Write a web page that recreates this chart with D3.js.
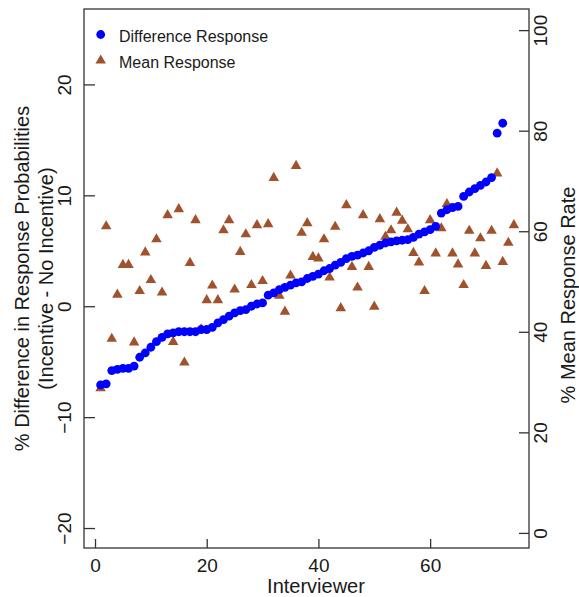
<!DOCTYPE html>
<meta charset="utf-8">
<style>
body { margin: 0; background: #fff; }
text { font-family: "Liberation Sans", Arial, sans-serif; fill: #1a1a1a; }
.frame { fill: none; stroke: #333; stroke-width: 1.3px; }
.tick line { stroke: #333; stroke-width: 1.3px; }
</style>
<body>
<script src="https://d3js.org/d3.v7.min.js"></script>
<script>
// difference in response probability, sorted (incentive - no incentive)
var diffResponse = [-7.1, -7.0, -5.8, -5.7, -5.6, -5.6, -5.4, -4.6, -4.2, -3.7,
    -3.2, -2.8, -2.5, -2.4, -2.3, -2.3, -2.3, -2.3, -2.1, -2.1,
    -1.9, -1.5, -1.2, -0.9, -0.6, -0.4, -0.3, 0.0, 0.2, 0.3,
    1.0, 1.2, 1.5, 1.7, 1.9, 2.1, 2.2, 2.5, 2.7, 2.9,
    3.2, 3.4, 3.7, 3.95, 4.3, 4.5, 4.6, 4.8, 5.0, 5.3,
    5.5, 5.7, 5.8, 5.9, 5.95, 6.0, 6.2, 6.5, 6.7, 6.9,
    7.2, 8.4, 8.7, 8.9, 9.0, 9.9, 10.3, 10.6, 10.9, 11.2,
    11.6, 15.6, 16.5];
// mean response rate (%) per interviewer
var meanResponse = [28.8, 61.0, 38.6, 47.4, 53.3, 53.3, 37.9, 48.1, 55.8, 50.3,
    58.4, 47.8, 63.2, 38.0, 64.4, 33.9, 53.7, 62.2, 40.5, 46.3,
    49.2, 46.3, 60.2, 62.2, 48.4, 55.9, 59.4, 49.3, 61.2, 50.1,
    61.4, 70.6, 47.2, 44.0, 51.2, 73.0, 59.7, 61.6, 54.9, 54.6,
    58.4, 50.8, 60.9, 44.7, 65.2, 52.9, 48.8, 63.2, 52.9, 45.0,
    62.4, 58.9, 60.2, 63.7, 62.1, 60.4, 55.7, 53.8, 48.1, 62.2,
    55.6, 60.6, 65.4, 55.6, 53.4, 49.3, 60.1, 55.6, 58.6, 53.1,
    60.1, 71.5, 53.9, 57.7, 61.2];
var xTicks = [0, 20, 40, 60];
var leftTicks = [-20, -10, 0, 10, 20];
var rightTicks = [0, 20, 40, 60, 80, 100];
var legendLabels = ["Difference Response", "Mean Response"];

// plot box
var margin = {top: 9, right: 50, bottom: 49, left: 84},
    width = 579 - margin.left - margin.right,
    height = 597 - margin.top - margin.bottom;

var svg = d3.select("body").append("svg")
    .attr("width", 579)
    .attr("height", 597);
var g = svg.append("g")
    .attr("transform", "translate(" + margin.left + "," + margin.top + ")");

// scales
var x = d3.scaleLinear().domain([-1.97, 77.7]).range([0, width]);
var yLeft = d3.scaleLinear().domain([-21.8, 26.8]).range([height, 0]);
var yRight = d3.scaleLinear().domain([-3, 104.2]).range([height, 0]);

// axes, ticks point inward like the original
var xAxis = g.append("g")
    .attr("transform", "translate(0," + height + ")")
    .call(d3.axisBottom(x).tickValues(xTicks).tickSize(-9).tickPadding(14));
var lAxis = g.append("g")
    .call(d3.axisLeft(yLeft).tickValues(leftTicks).tickSize(-11).tickFormat(d3.format("d")));
var rAxis = g.append("g")
    .attr("transform", "translate(" + width + ",0)")
    .call(d3.axisRight(yRight).tickValues(rightTicks).tickSize(-10));
[xAxis, lAxis, rAxis].forEach(function(a) {
    a.select(".domain").remove();
    a.selectAll("text").style("font-size", "19px").attr("fill", "#1a1a1a");
});
xAxis.selectAll("text").attr("dy", "0.5em");
// rotated tick labels on the y axes
lAxis.selectAll(".tick text")
    .attr("x", null).attr("dy", null)
    .attr("text-anchor", "middle")
    .attr("transform", "translate(-13,0) rotate(-90)");
rAxis.selectAll(".tick text")
    .attr("x", null).attr("dy", null)
    .attr("text-anchor", "middle")
    .attr("transform", "translate(18,0) rotate(-90)");

g.append("rect")
    .attr("class", "frame")
    .attr("width", width)
    .attr("height", height);

// mean response triangles (right axis)
g.selectAll(".tri")
    .data(meanResponse)
    .enter().append("path")
    .attr("class", "tri")
    .attr("d", d3.symbol().type(d3.symbolTriangle).size(48))
    .attr("fill", "#a0522d")
    .attr("transform", function(d, i) {
        return "translate(" + x(i + 1) + "," + yRight(d) + ")"; });

// difference dots (left axis)
g.selectAll(".dot")
    .data(diffResponse)
    .enter().append("circle")
    .attr("class", "dot")
    .attr("cx", function(d, i) { return x(i + 1); })
    .attr("cy", function(d) { return yLeft(d); })
    .attr("r", 4.4)
    .attr("fill", "#0000ff");

// axis titles
svg.append("text")
    .attr("x", 316).attr("y", 593)
    .attr("text-anchor", "middle")
    .style("font-size", "20px")
    .text("Interviewer");
svg.append("text")
    .attr("transform", "translate(29," + (margin.top + height / 2) + ") rotate(-90)")
    .attr("text-anchor", "middle")
    .style("font-size", "20px")
    .text("% Difference in Response Probabilities");
svg.append("text")
    .attr("transform", "translate(53," + (margin.top + height / 2) + ") rotate(-90)")
    .attr("text-anchor", "middle")
    .style("font-size", "20px")
    .text("(Incentive - No Incentive)");
svg.append("text")
    .attr("transform", "translate(575,295) rotate(-90)")
    .attr("text-anchor", "middle")
    .style("font-size", "20px")
    .text("% Mean Response Rate");

// legend
var legend = svg.append("g");
legend.append("circle")
    .attr("cx", 100.7).attr("cy", 34.5).attr("r", 4.4)
    .attr("fill", "#0000ff");
legend.append("path")
    .attr("d", d3.symbol().type(d3.symbolTriangle).size(48))
    .attr("fill", "#a0522d")
    .attr("transform", "translate(100.7,60.5)");
legend.selectAll(".leg")
    .data(legendLabels)
    .enter().append("text")
    .attr("x", 119)
    .attr("y", function(d, i) { return 36 + i * 26; })
    .attr("dy", "0.35em")
    .style("font-size", "16px")
    .text(function(d) { return d; });
</script>
</body>
